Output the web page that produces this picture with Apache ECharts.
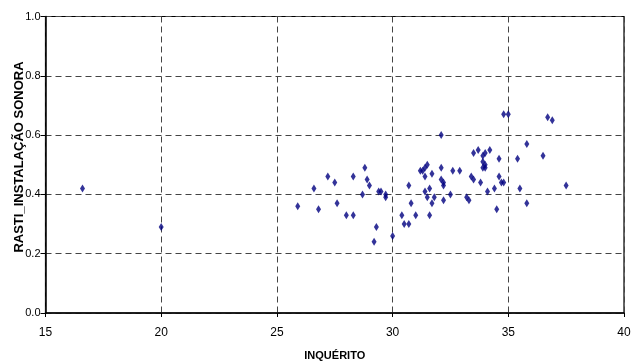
<!DOCTYPE html>
<html>
<head>
<meta charset="utf-8">
<script src="https://cdn.jsdelivr.net/npm/echarts@6/dist/echarts.min.js"></script>
<style>
  html, body { margin: 0; padding: 0; background: #fff; }
  #chart { width: 633px; height: 363px; }
</style>
</head>
<body>
<div id="chart"></div>
<script>
// INQUÉRITO score per respondent
const inquerito = [
  16.6, 20.0,
  25.9, 26.6, 26.8, 27.2, 27.5, 27.6, 28.0, 28.3, 28.3, 28.8, 28.9, 29.0, 28.7,
  29.3, 29.2, 29.4, 29.5, 29.7, 29.7, 30.0, 30.4, 30.5, 30.7, 30.7, 30.8, 31.0,
  31.2, 31.3, 31.4, 31.5, 31.4, 31.7, 31.4, 31.5, 31.6, 31.7, 31.6, 31.8,
  32.1, 32.1, 32.1, 32.2, 32.2, 32.2, 32.5,
  34.8, 35.0, 36.7, 36.9, 35.8, 36.5, 35.4, 34.6, 34.2, 34.0, 33.7, 33.5, 33.9,
  33.9, 34.0, 34.0, 33.9, 32.6, 32.9, 33.4, 33.5, 33.8, 34.6, 34.7, 34.8, 34.4,
  34.1, 35.5, 37.5, 33.2, 33.3, 34.5, 35.8
];
// RASTI measured for the sound installation
const rastiInstalacao = [
  0.42, 0.29,
  0.36, 0.42, 0.35, 0.46, 0.44, 0.37, 0.33, 0.33, 0.46, 0.49, 0.45, 0.43, 0.40,
  0.29, 0.24, 0.41, 0.41, 0.40, 0.39, 0.26, 0.33, 0.30, 0.30, 0.43, 0.37, 0.33,
  0.48, 0.48, 0.49, 0.50, 0.46, 0.47, 0.41, 0.39, 0.42, 0.37, 0.33, 0.39,
  0.60, 0.49, 0.45, 0.44, 0.43, 0.38, 0.40,
  0.67, 0.67, 0.66, 0.65, 0.57, 0.53, 0.52, 0.52, 0.55, 0.54, 0.55, 0.54, 0.53,
  0.51, 0.50, 0.49, 0.49, 0.48, 0.48, 0.46, 0.45, 0.44, 0.46, 0.44, 0.44, 0.42,
  0.41, 0.42, 0.43, 0.39, 0.38, 0.35, 0.37
];
const xTicks = [15, 20, 25, 30, 35, 40];
const yTicks = [0.0, 0.2, 0.4, 0.6, 0.8, 1.0];
const xTitle = 'INQUÉRITO';
const yTitle = 'RASTI_INSTALAÇÃO SONORA';

const points = inquerito.map((x, i) => [x, rastiInstalacao[i]]);

const font = '"Liberation Sans", Arial, sans-serif';
const gridDash = { color: '#444', type: [6, 4], width: 1 };

const chart = echarts.init(document.getElementById('chart'), null, { renderer: 'canvas' });
chart.setOption({
  animation: false,
  backgroundColor: '#fff',
  grid: {
    left: 45.5, right: 9, top: 16.5, bottom: 50,
    containLabel: false,
    outerBoundsMode: 'none',
    show: true, borderColor: '#000', borderWidth: 1.2, backgroundColor: 'transparent'
  },
  // vertical title of the value axis
  graphic: [{
    type: 'text',
    x: 19, y: 157,
    rotation: Math.PI / 2,
    style: {
      text: yTitle,
      fontFamily: font, fontWeight: 'bold', fontSize: 13, fill: '#000',
      align: 'center', verticalAlign: 'middle'
    }
  }],
  xAxis: {
    type: 'value',
    min: xTicks[0], max: xTicks[xTicks.length - 1], interval: 5,
    name: xTitle,
    nameLocation: 'middle',
    nameGap: 37,
    nameTextStyle: { fontFamily: font, fontWeight: 'bold', fontSize: 11, color: '#000' },
    axisLine: { show: true, onZero: false, lineStyle: { color: '#000', width: 1.5 } },
    axisTick: { show: true, inside: false, length: 4, lineStyle: { color: '#000' } },
    axisLabel: { fontFamily: font, fontSize: 12, color: '#000', margin: 14 },
    splitLine: { show: true, lineStyle: gridDash }
  },
  yAxis: {
    type: 'value',
    min: yTicks[0], max: yTicks[yTicks.length - 1], interval: 0.2,
    axisLine: { show: true, onZero: false, lineStyle: { color: '#000', width: 1.5 } },
    axisTick: { show: true, inside: false, length: 5, lineStyle: { color: '#000' } },
    axisLabel: {
      fontFamily: font, fontSize: 11, color: '#000', margin: 5,
      formatter: v => v.toFixed(1)
    },
    splitLine: { show: true, lineStyle: gridDash }
  },
  series: [{
    type: 'scatter',
    data: points,
    symbol: 'diamond',
    symbolSize: [5, 8],
    itemStyle: { color: '#000080' }
  }]
});
</script>
</body>
</html>
